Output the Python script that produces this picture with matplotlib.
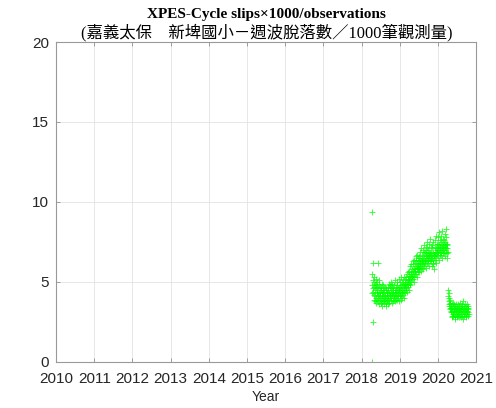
import numpy as np
import pandas as pd
import matplotlib
matplotlib.use('Agg')
import matplotlib.pyplot as plt

# cycle slips x1000 / observations, one value every second day
slips_a = [
    9.4, 4.8, 5.5, 4.3, 0.0, 5.1, 4.6, 2.5, 6.2, 4.4, 5.3, 3.9, 4.7, 4.2, 5.0,
    4.1, 4.9, 3.8, 4.5, 5.2, 4.0, 4.6, 3.7, 4.8, 4.3, 5.0, 3.9, 4.4, 4.7, 4.1,
    4.6, 3.8, 6.2, 4.2, 4.9, 3.6, 4.4, 4.0, 5.1, 4.3, 3.9, 4.7, 4.1, 4.5, 3.7,
    4.0, 4.6, 3.7, 4.3, 4.9, 3.9, 4.2, 3.5, 4.5, 4.1, 4.8, 3.8, 4.4, 4.0, 4.6,
    3.9, 4.4, 3.6, 4.2, 4.7, 3.8, 4.1, 4.5, 3.5, 4.0, 4.6, 3.7, 4.3, 3.9, 4.2,
    4.4, 3.8, 4.7, 4.0, 3.6, 4.5, 4.1, 4.9, 3.9, 4.3, 3.7, 4.6, 4.2, 4.0, 4.8,
    4.1, 4.6, 3.9, 4.4, 5.0, 4.0, 4.3, 3.7, 4.7, 4.2, 4.9, 3.8, 4.5, 4.1, 4.4,
    4.6, 3.9, 4.2, 4.8, 4.0, 4.5, 3.8, 4.3, 5.1, 4.1, 4.4, 3.9, 4.7, 4.2, 4.5,
    4.2, 4.8, 3.9, 4.5, 5.0, 4.1, 4.6, 4.0, 4.4, 5.2, 4.3, 3.8, 4.7, 4.5, 4.1,
    4.7, 4.2, 5.0, 4.4, 3.9, 4.8, 4.5, 5.3, 4.1, 4.6, 4.3, 5.0, 4.4, 4.0, 4.9,
    4.5, 5.1, 4.2, 4.8, 4.4, 5.3, 4.6, 4.0, 4.9, 4.7, 5.2, 4.3, 4.8, 4.5, 5.0,
    4.7, 5.3, 4.6, 5.0, 5.5, 4.8, 4.4, 5.2, 4.9, 5.6, 4.7, 5.1, 4.5, 5.4, 5.0,
    5.1, 5.7, 4.9, 5.4, 6.0, 5.2, 4.8, 5.6, 5.3, 6.1, 5.0, 5.5, 5.8, 5.2, 5.4,
    5.4, 6.1, 5.2, 5.7, 6.3, 5.5, 5.0, 5.9, 5.6, 6.4, 5.3, 5.8, 6.2, 5.5, 5.7,
    5.7, 6.4, 5.5, 6.0, 6.6, 5.8, 5.3, 6.2, 5.9, 6.7, 5.6, 6.1, 6.5, 5.8, 6.0,
    6.3, 5.8, 6.6, 6.0, 5.6, 6.9, 6.2, 5.9, 6.5, 6.1, 7.1, 5.7, 6.4, 6.0, 6.3,
    6.1, 6.7, 5.9, 6.4, 7.0, 6.2, 5.8, 6.6, 6.3, 7.3, 6.0, 6.5, 6.9, 6.2, 6.4,
    6.3, 6.9, 6.1, 6.6, 7.2, 6.4, 5.9, 6.8, 6.5, 7.5, 6.2, 6.7, 7.1, 6.4, 6.6,
    6.4, 7.0, 6.2, 6.7, 7.4, 6.5, 6.0, 6.9, 6.6, 7.7, 6.3, 6.8, 7.2, 6.5, 6.7,
    6.8, 6.3, 7.1, 6.5, 6.0, 7.3, 6.6, 6.2, 6.9, 6.4, 7.5, 6.1, 6.7, 5.8, 6.6,
    6.6, 7.2, 6.4, 6.9, 7.6, 6.7, 6.2, 7.1, 6.8, 7.9, 6.5, 7.0, 7.4, 6.7, 6.9,
    6.8, 7.4, 6.6, 7.1, 7.8, 6.9, 6.4, 7.3, 7.0, 8.1, 6.7, 7.2, 7.6, 6.9, 7.1,
    6.9, 7.5, 6.7, 7.2, 7.9, 7.0, 6.5, 7.4, 7.1, 8.2, 6.8, 7.3, 7.7, 7.0, 7.2,
    7.0, 7.6, 6.8, 7.3, 8.0, 7.1, 6.6, 7.5, 7.2, 8.3, 6.9, 7.4, 7.8, 7.1, 7.3,
    6.8, 7.4, 6.5, 7.1, 6.9,
]
slips_b = [
    4.5, 4.1, 3.8, 4.3, 3.6, 4.0, 3.5, 3.9, 3.4, 3.7, 3.3, 3.6, 3.2, 3.5, 3.1,
    3.4, 2.9, 3.6, 3.1, 3.3, 2.8, 3.5, 3.0, 3.7, 3.2, 2.9, 3.4, 3.1, 3.6, 3.0,
    3.3, 2.8, 3.5, 3.1, 3.4, 2.7, 3.2, 3.6, 3.0, 3.3, 2.9, 3.5, 3.1, 2.8, 3.4,
    3.2, 3.6, 2.9, 3.3, 3.0, 3.5, 2.8, 3.2, 3.4, 3.0, 3.7, 3.1, 2.9, 3.3, 3.5,
    3.1, 3.4, 2.8, 3.2, 3.6, 3.0, 3.3, 2.9, 3.5, 3.1, 3.4, 2.7, 3.2, 3.8, 3.0,
    3.3, 2.9, 3.5, 3.1, 3.4, 3.0, 3.6, 3.2, 2.8, 3.3, 3.1, 3.5, 2.9, 3.4, 3.2,
    3.0, 3.6, 3.2, 3.4, 2.9, 3.3, 3.1, 3.5, 3.0,
]
start_a = '2018-04-06'
start_b = '2020-04-08'

years = list(range(2010, 2022))
yticks = [0, 5, 10, 15, 20]


def decimal_year(dates):
    yr = dates.year
    start = pd.to_datetime(yr.astype(str) + '-01-01')
    end = pd.to_datetime((yr + 1).astype(str) + '-01-01')
    return np.array(yr + (dates - start) / (end - start))


days_a = pd.date_range(start_a, periods=len(slips_a), freq='2D')
days_b = pd.date_range(start_b, periods=len(slips_b), freq='2D')
t = np.concatenate([decimal_year(days_a), decimal_year(days_b)])
v = np.array(slips_a + slips_b)

plt.rcParams['font.family'] = ['Liberation Sans', 'DejaVu Sans']

fig = plt.figure(figsize=(4.96, 4.08), dpi=100)
ax = fig.add_axes([0.113, 0.113, 0.847, 0.784])

ax.plot(t, v, '+', color=(0, 1, 0), markersize=4, mew=0.6, alpha=0.85)

ax.set_xlim(2010, 2021)
ax.set_ylim(0, 20)
ax.set_xticks(years)
ax.set_yticks(yticks)
ax.tick_params(direction='in', top=True, right=True, length=3, width=0.6,
               colors='#909090', labelcolor='#262626', labelsize=11)
ax.tick_params(axis='x', pad=7)
ax.tick_params(axis='y', pad=5)
ax.grid(True, color='#e3e3e3', linewidth=0.6)
ax.set_axisbelow(True)
for s in ax.spines.values():
    s.set_color('#999999')
    s.set_linewidth(0.8)

ax.set_xlabel('Year', fontsize=10, color='#262626', labelpad=3)

title_font = ['Liberation Serif', 'Noto Sans CJK TC']
fig.text(0.537, 0.965, 'XPES-Cycle slips\u00d71000/observations',
         ha='center', va='center', fontsize=11, fontweight='bold', family=title_font)
fig.text(0.537, 0.921, '(嘉義太保\u3000新埤國小－週波脫落數／1000筆觀測量)',
         ha='center', va='center', fontsize=11.8, family=title_font)

fig.savefig('out.png', dpi=100)
